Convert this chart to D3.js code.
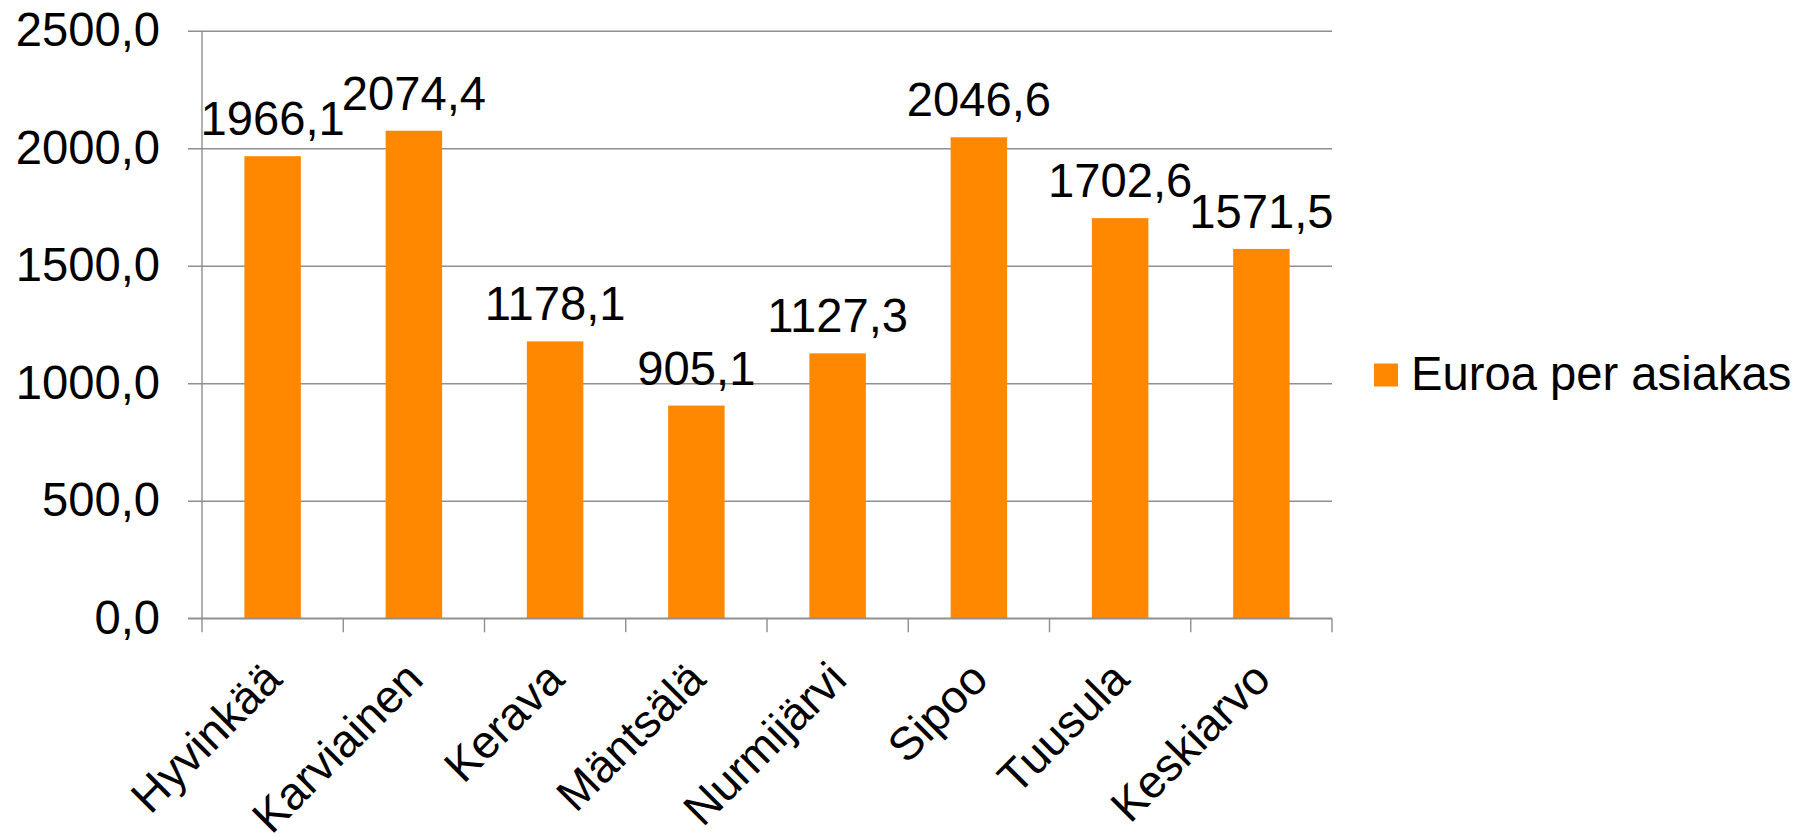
<!DOCTYPE html>
<html>
<head>
<meta charset="utf-8">
<script src="https://cdn.jsdelivr.net/npm/d3@7"></script>
<style>
  html, body { margin: 0; padding: 0; background: #ffffff; }
  svg { display: block; }
  text { font-family: "Liberation Sans", Arial, sans-serif; fill: #000; }
</style>
</head>
<body>
<svg id="chart" width="1812" height="836"></svg>
<script>
// ---- data ----
const categories = ["Hyvinkää", "Karviainen", "Kerava", "Mäntsälä", "Nurmijärvi", "Sipoo", "Tuusula", "Keskiarvo"];
const values = [1966.1, 2074.4, 1178.1, 905.1, 1127.3, 2046.6, 1702.6, 1571.5];
const valueLabels = ["1966,1", "2074,4", "1178,1", "905,1", "1127,3", "2046,6", "1702,6", "1571,5"];
const yTicks = [0, 500, 1000, 1500, 2000, 2500];
const yTickLabels = ["0,0", "500,0", "1000,0", "1500,0", "2000,0", "2500,0"];
const seriesName = "Euroa per asiakas";

// ---- layout ----
const plot = { left: 202, right: 1332, top: 30.7, bottom: 618.3 };
const barColor = "#FF8800";
const gridColor = "#8f8f8f";
const fontSize = 47.2;
const catFontSize = 46;

const svg = d3.select("#chart");

const y = d3.scaleLinear().domain([0, 2500]).range([plot.bottom, plot.top]);
const xOuter = d3.scaleBand().domain(categories).range([plot.left, plot.right]).padding(0);
const x = d3.scaleBand().domain(categories).range([plot.left, plot.right])
  .paddingInner(0.6).paddingOuter(0.3);

// gridlines + y labels
const yAxis = d3.axisLeft(y)
  .tickValues(yTicks)
  .tickFormat((d, i) => yTickLabels[i])
  .tickSizeInner(-(plot.right - plot.left))
  .tickSizeOuter(0)
  .tickPadding(42);

const gy = svg.append("g")
  .attr("transform", `translate(${plot.left},0)`)
  .call(yAxis);
gy.select(".domain").remove();
gy.selectAll(".tick line")
  .attr("x1", -14)
  .attr("stroke", gridColor)
  .attr("stroke-width", 1.4);
gy.selectAll(".tick text")
  .attr("font-size", fontSize)
  .attr("font-family", "Liberation Sans, Arial, sans-serif")
  .attr("fill", "#000");

// vertical y axis line
svg.append("line")
  .attr("x1", plot.left).attr("x2", plot.left)
  .attr("y1", y(2500)).attr("y2", y(0))
  .attr("stroke", gridColor).attr("stroke-width", 1.4);

// bars
svg.append("g").selectAll("rect")
  .data(categories)
  .join("rect")
  .attr("x", d => x(d))
  .attr("width", x.bandwidth())
  .attr("y", (d, i) => y(values[i]))
  .attr("height", (d, i) => y(0) - y(values[i]))
  .attr("fill", barColor);

// x axis line + ticks at category boundaries
svg.append("line")
  .attr("x1", plot.left - 14).attr("x2", plot.right)
  .attr("y1", y(0)).attr("y2", y(0))
  .attr("stroke", gridColor).attr("stroke-width", 1.4);

const boundaries = categories.map(c => xOuter(c)).concat([plot.right]);
svg.append("g").selectAll("line")
  .data(boundaries)
  .join("line")
  .attr("x1", d => d).attr("x2", d => d)
  .attr("y1", y(0)).attr("y2", y(0) + 14)
  .attr("stroke", gridColor).attr("stroke-width", 1.4);

// value labels
svg.append("g").selectAll("text")
  .data(categories)
  .join("text")
  .attr("x", d => x(d) + x.bandwidth() / 2)
  .attr("y", (d, i) => y(values[i]) - 21)
  .attr("text-anchor", "middle")
  .attr("font-size", fontSize)
  .text((d, i) => valueLabels[i]);

// category labels
svg.append("g").selectAll("text")
  .data(categories)
  .join("text")
  .attr("transform", d => `translate(${xOuter(d) + xOuter.bandwidth() / 2},${y(0) + 52}) rotate(-45)`)
  .attr("text-anchor", "end")
  .attr("dy", "0.35em")
  .attr("font-size", catFontSize)
  .text(d => d);

// legend
const lg = svg.append("g");
lg.append("rect")
  .attr("x", 1374).attr("y", 363.5)
  .attr("width", 24).attr("height", 23)
  .attr("fill", barColor);
lg.append("text")
  .attr("x", 1411).attr("y", 390)
  .attr("font-size", fontSize)
  .text(seriesName);
</script>
</body>
</html>
